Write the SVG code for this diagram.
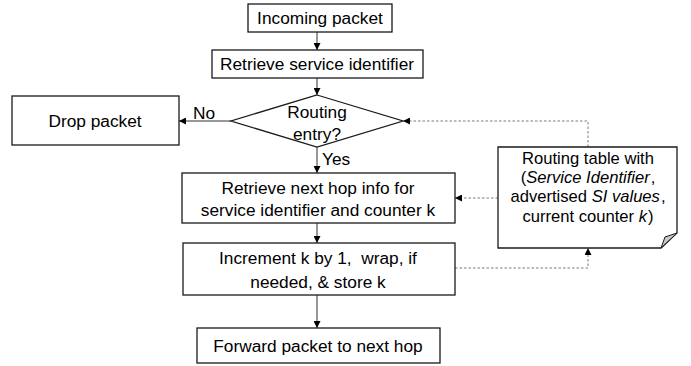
<svg xmlns="http://www.w3.org/2000/svg" width="691" height="366" viewBox="0 0 691 366">
  <style>
    .box { fill: #ffffff; stroke: #1a1a1a; stroke-width: 1.3; }
    .lbl { font-family: "Liberation Sans", Arial, sans-serif; font-size: 17.3px; fill: #000000; text-anchor: middle; white-space: pre; }
    .note { font-size: 16.6px; }
    .lft { text-anchor: start; }
    .flow { fill: none; stroke: #333333; stroke-width: 1; }
    .ref { fill: none; stroke: #7a7a7a; stroke-width: 1; stroke-dasharray: 2.5 2; }
  </style>
  <defs>
    <marker id="head" viewBox="0 0 10 10" refX="10" refY="5" markerWidth="7" markerHeight="7" markerUnits="userSpaceOnUse" orient="auto">
      <path d="M0,0 L10,5 L0,10 z" fill="#000000"/>
    </marker>
  </defs>

  <rect width="691" height="366" fill="#ffffff"/>

  <g id="connectors">
    <line class="flow" x1="317" y1="32" x2="317" y2="50" marker-end="url(#head)"/>
    <line class="flow" x1="317" y1="78" x2="317" y2="95" marker-end="url(#head)"/>
    <line class="flow" x1="231" y1="121" x2="179" y2="121" marker-end="url(#head)"/>
    <line class="flow" x1="317" y1="147" x2="317" y2="173" marker-end="url(#head)"/>
    <line class="flow" x1="317" y1="223" x2="317" y2="243" marker-end="url(#head)"/>
    <line class="flow" x1="317" y1="295" x2="317" y2="328" marker-end="url(#head)"/>
    <polyline class="ref" points="588,147 588,121 403,121" marker-end="url(#head)"/>
    <line class="ref" x1="498" y1="198" x2="455" y2="198" marker-end="url(#head)"/>
    <polyline class="ref" points="455,268 588,268 588,248" marker-end="url(#head)"/>
    <text class="lbl lft" x="193" y="119">No</text>
    <text class="lbl lft" x="322" y="165">Yes</text>
  </g>

  <g id="incoming">
    <rect class="box" x="248" y="4" width="144" height="28"/>
    <text class="lbl" x="320" y="24">Incoming packet</text>
  </g>

  <g id="retrieve-si">
    <rect class="box" x="212" y="50" width="211" height="28"/>
    <text class="lbl" x="317" y="70">Retrieve service identifier</text>
  </g>

  <g id="routing-entry">
    <polygon class="box" points="317,95 403,121 317,147 231,121"/>
    <text class="lbl" x="317" y="118">Routing</text>
    <text class="lbl" x="317" y="140">entry?</text>
  </g>

  <g id="drop">
    <rect class="box" x="12" y="96" width="167" height="49"/>
    <text class="lbl" x="95" y="127">Drop packet</text>
  </g>

  <g id="next-hop">
    <rect class="box" x="182" y="173" width="273" height="50"/>
    <text class="lbl" x="318" y="194">Retrieve next hop info for</text>
    <text class="lbl" x="318" y="216">service identifier and counter k</text>
  </g>

  <g id="increment">
    <rect class="box" x="183" y="243" width="272" height="52"/>
    <text class="lbl" x="318" y="264">Increment k by 1,  wrap, if</text>
    <text class="lbl" x="318" y="288">needed, &amp; store k</text>
  </g>

  <g id="forward">
    <rect class="box" x="197" y="328" width="243" height="35"/>
    <text class="lbl" x="318" y="352">Forward packet to next hop</text>
  </g>

  <g id="routing-table">
    <path class="box" d="M498,147 L677,147 L677,233 L661,248 L498,248 Z"/>
    <path d="M677,233 L661,248 L665,237 Z" fill="#c8c8c8" stroke="#1a1a1a" stroke-width="1"/>
    <text class="lbl note" x="588" y="164">Routing table with</text>
    <text class="lbl note" x="588" y="183">(<tspan font-style="italic">Service Identifier</tspan><tspan dx="1">,</tspan></text>
    <text class="lbl note" x="588" y="202">advertised <tspan font-style="italic">SI values</tspan><tspan dx="1">,</tspan></text>
    <text class="lbl note" x="588" y="222">current counter <tspan font-style="italic">k</tspan><tspan dx="1">)</tspan></text>
  </g>
</svg>
